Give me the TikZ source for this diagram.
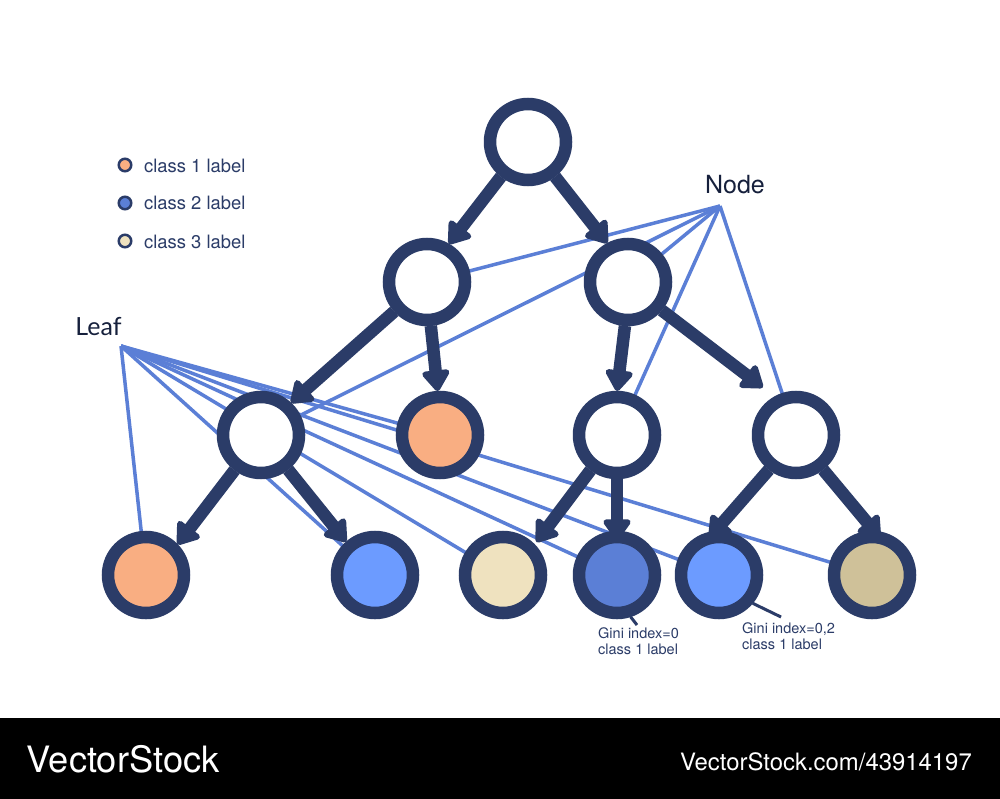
\documentclass[tikz,border=0pt]{standalone}
\usepackage{fontspec}
\setmainfont{Liberation Sans}
\newfontfamily\leaffont{Lato}
\newfontfamily\brandfont{TeX Gyre Heros}
\usetikzlibrary{arrows.meta}
\definecolor{navy}{HTML}{2B3C68}
\definecolor{ink}{HTML}{16203C}
\definecolor{lineblue}{HTML}{5B7FD6}
\definecolor{peach}{HTML}{F9AE82}
\definecolor{skyblue}{HTML}{6C9BFF}
\definecolor{cream}{HTML}{EFE2BF}
\definecolor{sand}{HTML}{CFC199}
\tikzset{
  x=1pt,y=-1pt,
  ring/.style={circle,draw=navy,line width=12.5pt,minimum size=76pt,inner sep=0pt,fill=white},
  place/.style={circle,minimum size=88pt,inner sep=0pt,outer sep=0pt},
  dot/.style={circle,draw=navy,line width=2.5pt,minimum size=12.5pt,inner sep=0pt},
  edge/.style={draw=navy,line width=12.5pt,-{Triangle[round,line width=6pt,length=23pt,width=31pt]}},
  pointer/.style={draw=navy,line width=3pt},
  guide/.style={draw=lineblue,line width=3.5pt},
  legendtext/.style={text=navy,font=\fontsize{18.4}{22}\selectfont\brandfont,anchor=west,inner sep=0pt},
  bigtext/.style={text=ink,font=\fontsize{25}{30}\selectfont,inner sep=0pt},
  ginitext/.style={text=navy,font=\fontsize{14.5}{16.3}\selectfont\brandfont,align=left,anchor=north west,inner sep=0pt},
  brand/.style={text=white,inner sep=0pt},
}
\begin{document}
\begin{tikzpicture}
\useasboundingbox (0,0) rectangle (1000,799);
\fill[white] (0,0) rectangle (1000,799);
\fill[black] (0,718) rectangle (1000,799);
\coordinate (nodeapex) at (720,206);
\coordinate (leafapex) at (121,346);
\path
  (528,142) node[place] (root) {}
  (427,282) node[place] (l1) {}
  (628,282) node[place] (r1) {}
  (261,435) node[place] (a) {}
  (440,435) node[place] (b) {}
  (617,435) node[place] (c) {}
  (796,435) node[place] (d) {}
  (146,575) node[place] (n1) {}
  (375,575) node[place] (n2) {}
  (503,575) node[place] (n3) {}
  (617,575) node[place] (n4) {}
  (719,575) node[place] (n5) {}
  (872,575) node[place] (n6) {};
% guides
\foreach \t in {l1,a,r1,c,d} \draw[guide] (nodeapex) -- (\t.center);
\foreach \t in {b,n1,n2,n3,n4,n5,n6} \draw[guide] (leafapex) -- (\t.center);
% edges
\draw[edge] (root.232) -- (l1.60);
\draw[edge] (root.-52) -- (r1.118);
\draw[edge] (l1.222) -- (a.47);
\draw[edge] (l1.-85) -- (b.93);
\draw[edge] (r1.-94) -- (c.90);
\draw[edge,shorten >=15pt] (r1.-40) -- (d.119);
\draw[edge] (a.233) -- (n1.44);
\draw[edge] (a.-52) -- (n2.131);
\draw[edge,shorten >=3pt] (c.233) -- (n3.44);
\draw[edge,shorten >=-9pt] (c.-90) -- (n4.90);
\draw[edge,shorten >=-9pt] (d.232) -- (n5.95);
\draw[edge,shorten >=-9pt] (d.-52) -- (n6.87);
% nodes
\node[ring] at (root) {};
\node[ring] at (l1) {};
\node[ring] at (r1) {};
\node[ring] at (a) {};
\node[ring] at (c) {};
\node[ring] at (d) {};
\node[ring,fill=peach] at (b) {};
\node[ring,fill=peach] at (n1) {};
\node[ring,fill=skyblue] at (n2) {};
\node[ring,fill=cream] at (n3) {};
\node[ring,fill=lineblue] at (n4) {};
\node[ring,fill=skyblue] at (n5) {};
\node[ring,fill=sand] at (n6) {};
% pointers
\coordinate (p4) at (637,625);
\coordinate (p5) at (781,617);
\draw[pointer] (n4.-72) -- (p4);
\draw[pointer] (n5.-40) -- (p5);
% labels
\node[ginitext] (g4) at (598,627) {Gini index=0\\class 1 label};
\node[ginitext] (g5) at (742,622) {Gini index=0,2\\class 1 label};
\node[bigtext,anchor=center] (nodelabel) at (735,185) {\brandfont Node};
\node[bigtext,anchor=center] (leaflabel) at (98.5,327) {\leaffont Leaf};
% legend
\node[dot,fill=peach] (d1) at (125,165) {};
\node[dot,fill=lineblue] (d2) at (125,203) {};
\node[dot,fill=cream] (d3) at (125,241) {};
\node[legendtext] (t1) at (144,166) {class 1 label};
\node[legendtext] (t2) at (144,203) {class 2 label};
\node[legendtext] (t3) at (144,242) {class 3 label};
% footer
\node[brand,anchor=west,font=\fontsize{36.3}{40}\selectfont\brandfont] (brand1) at (26.5,759) {VectorStock};
\node[brand,anchor=east,font=\fontsize{23.9}{28}\selectfont\brandfont] (brand2) at (972,762) {VectorStock.com/43914197};
\end{tikzpicture}
\end{document}
